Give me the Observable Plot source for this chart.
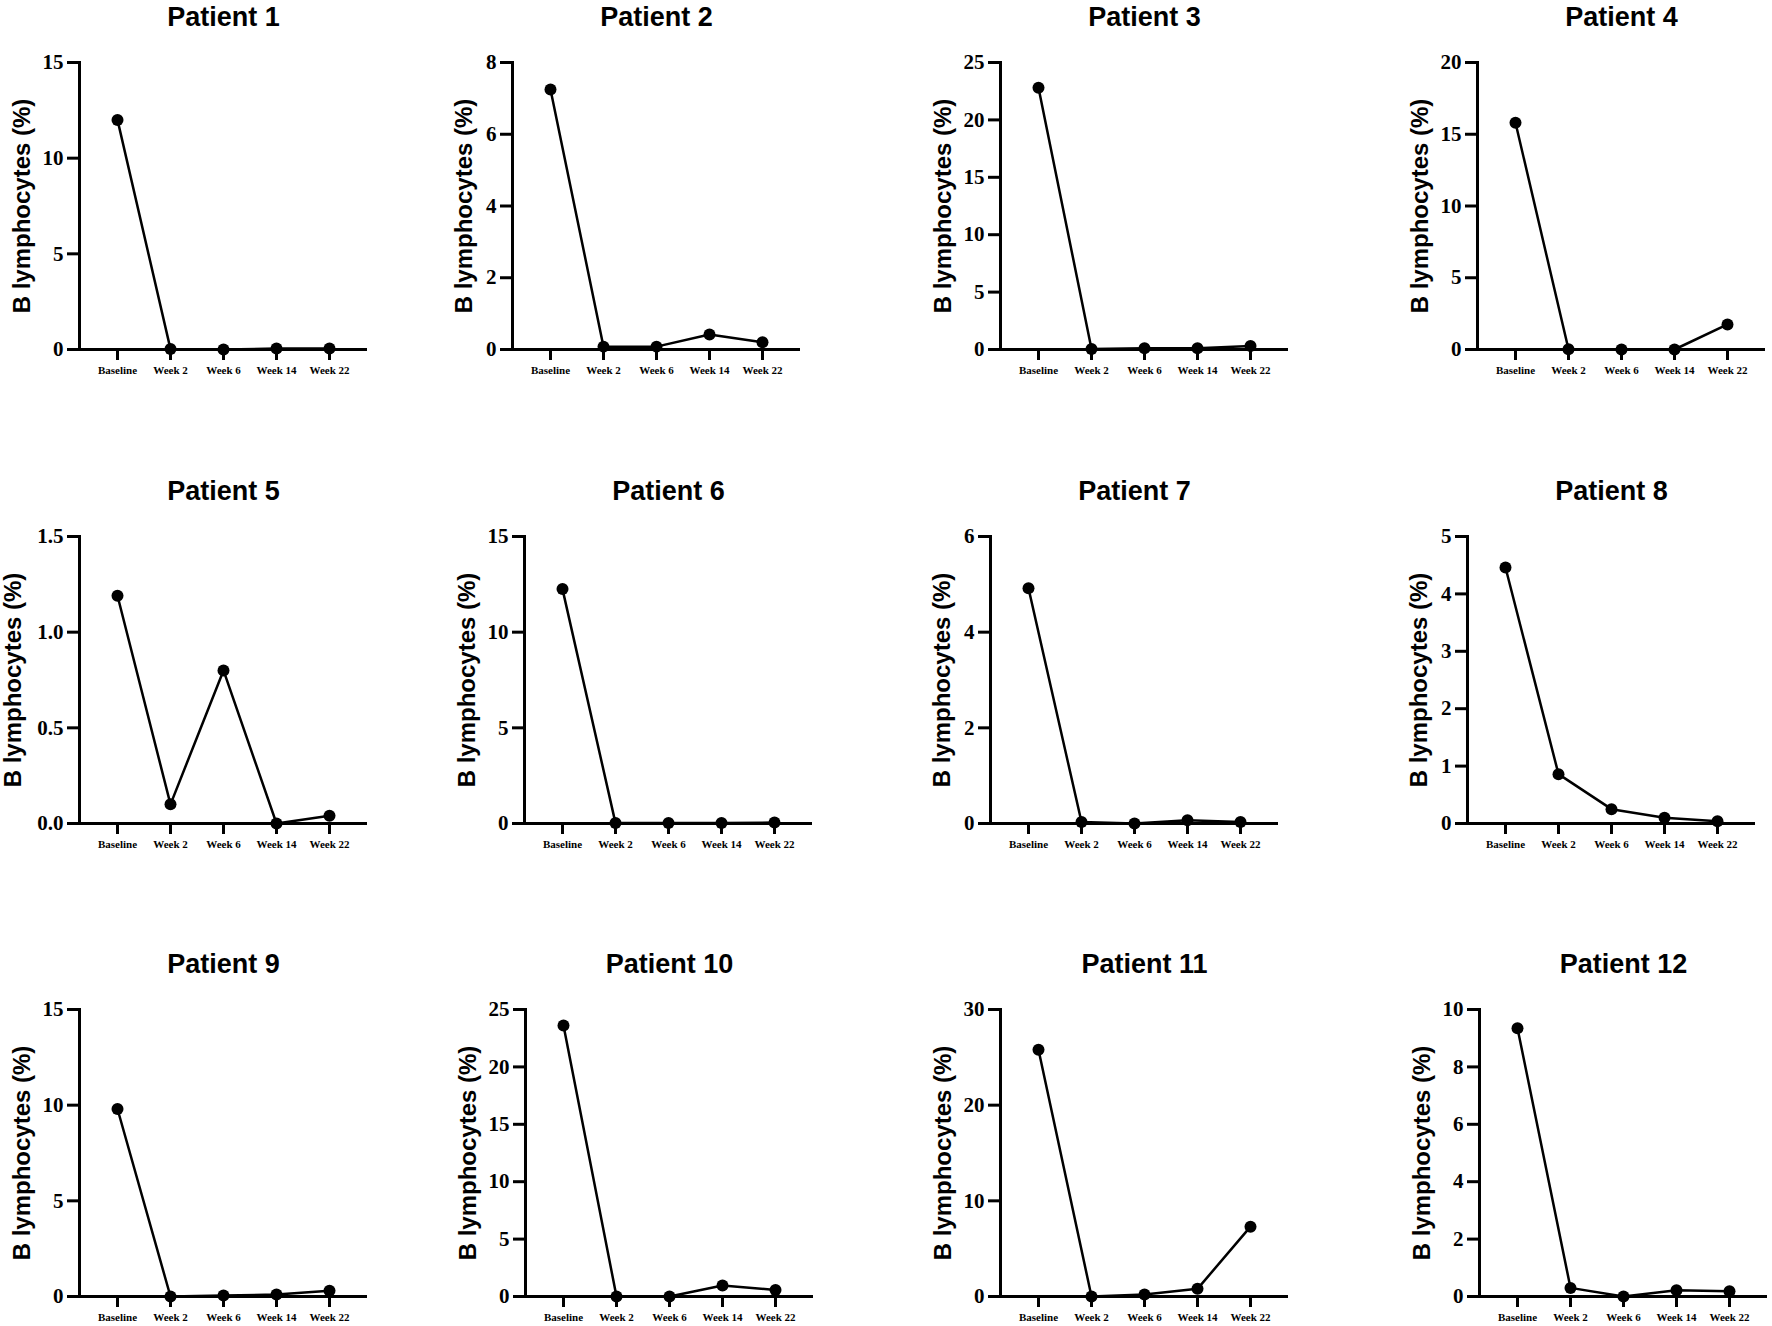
<!DOCTYPE html>
<html>
<head>
<meta charset="utf-8">
<script src="https://cdn.jsdelivr.net/npm/d3@7"></script>
<script src="https://cdn.jsdelivr.net/npm/@observablehq/plot@0.6"></script>
<style>
  html, body { margin: 0; padding: 0; background: #fff; overflow: hidden; }
  #grid { position: relative; width: 1772px; height: 1326px; background: #fff; }
</style>
</head>
<body>
<div id="grid"></div>
<script>
(function () {
  'use strict';

  /* ---- Data ---- */
  const timepoints = ['Baseline', 'Week 2', 'Week 6', 'Week 14', 'Week 22'];
  const patients = ['Patient 1', 'Patient 2', 'Patient 3', 'Patient 4',
                    'Patient 5', 'Patient 6', 'Patient 7', 'Patient 8',
                    'Patient 9', 'Patient 10', 'Patient 11', 'Patient 12'];
  const yMax  = [15, 8, 25, 20, 1.5, 15, 6, 5, 15, 25, 30, 10];
  const yStep = [5, 2, 5, 5, 0.5, 5, 2, 1, 5, 5, 10, 2];

  const patient1  = [12.0, 0.02, 0.0, 0.05, 0.05];
  const patient2  = [7.25, 0.08, 0.08, 0.42, 0.2];
  const patient3  = [22.8, 0.05, 0.1, 0.1, 0.3];
  const patient4  = [15.8, 0.02, 0.0, 0.0, 1.75];
  const patient5  = [1.19, 0.10, 0.80, 0.0, 0.04];
  const patient6  = [12.25, 0.02, 0.02, 0.02, 0.05];
  const patient7  = [4.92, 0.03, 0.0, 0.07, 0.03];
  const patient8  = [4.46, 0.86, 0.25, 0.10, 0.04];
  const patient9  = [9.8, 0.0, 0.05, 0.1, 0.3];
  const patient10 = [23.6, 0.0, 0.0, 0.95, 0.57];
  const patient11 = [25.8, 0.0, 0.2, 0.8, 7.3];
  const patient12 = [9.35, 0.3, 0.0, 0.22, 0.18];
  const series = [patient1, patient2, patient3, patient4, patient5, patient6,
                  patient7, patient8, patient9, patient10, patient11, patient12];

  const yLabel = 'B lymphocytes (%)';

  /* ---- Layout ---- */
  const axisLeft = [79, 512, 1000, 1477, 79, 524, 990, 1467, 79, 525, 1000, 1479];
  const frameTop = [62, 536, 1009];
  const frameW = 288, frameH = 287;
  const M = { left: 90, right: 12, top: 70, bottom: 40 };
  const sans = "'Liberation Sans', Arial, sans-serif";
  const serif = "'Liberation Serif', 'Times New Roman', serif";

  const grid = document.getElementById('grid');

  patients.forEach((name, i) => {
    const data = timepoints.map((t, j) => ({ time: t, value: series[i][j] }));
    const ticks = d3.range(0, yMax[i] + yStep[i] / 2, yStep[i]);
    const fmt = yStep[i] < 1 ? d3.format('.1f') : d3.format('d');
    const maxLen = d3.max(ticks, t => fmt(t).length);
    const labelOffset = 39 + 9 * maxLen;

    const chart = Plot.plot({
      width: M.left + frameW + M.right,
      height: M.top + frameH + M.bottom,
      marginLeft: M.left,
      marginRight: M.right,
      marginTop: M.top,
      marginBottom: M.bottom,
      style: { background: 'transparent', color: '#000', overflow: 'visible' },
      x: { type: 'point', domain: timepoints, padding: 0.667 },
      y: { domain: [0, yMax[i]] },
      marks: [
        Plot.axisY({
          ticks, tickFormat: fmt, tickSize: 12, tickPadding: 4,
          fontSize: 21, fontFamily: serif, fontWeight: 'bold',
          strokeWidth: 3, label: null
        }),
        Plot.axisX({
          tickSize: 11, tickPadding: 6,
          fontSize: 11, fontFamily: serif, fontWeight: 'bold',
          strokeWidth: 3, label: null
        }),
        Plot.ruleY([0], { strokeWidth: 3, stroke: '#000' }),
        Plot.frame({ anchor: 'left', strokeWidth: 3, stroke: '#000' }),
        Plot.line(data, { x: 'time', y: 'value', stroke: '#000', strokeWidth: 2.5 }),
        Plot.dot(data, { x: 'time', y: 'value', r: 6, fill: '#000' }),
        Plot.text([name], {
          text: d => d, frameAnchor: 'top', dy: -56,
          fontSize: 27, fontWeight: 'bold', fontFamily: sans, fill: '#000'
        }),
        Plot.text([yLabel], {
          text: d => d, frameAnchor: 'left', rotate: -90, dx: -labelOffset,
          textAnchor: 'middle', fontSize: 24, fontWeight: 'bold', fontFamily: sans, fill: '#000'
        })
      ]
    });

    const row = Math.floor(i / 4);
    chart.style.position = 'absolute';
    chart.style.left = (axisLeft[i] - M.left) + 'px';
    chart.style.top = (frameTop[row] - M.top) + 'px';
    chart.style.maxWidth = 'none';
    grid.appendChild(chart);
  });

})();
</script>
</body>
</html>
